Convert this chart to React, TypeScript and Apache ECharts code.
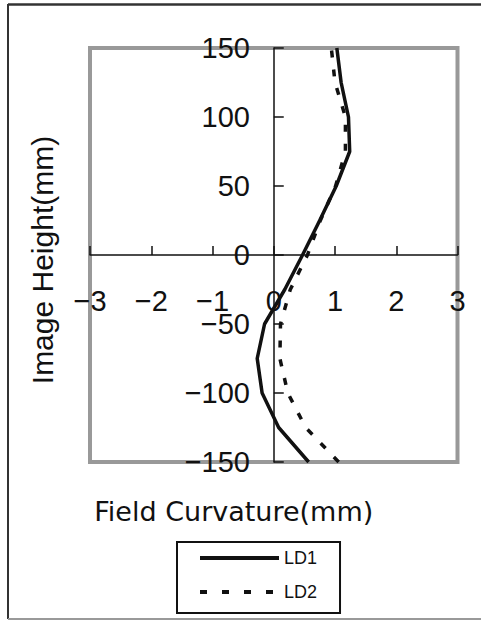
import React, { useEffect, useRef } from "react";
import * as echarts from "echarts";

const imageHeights = [-150, -125, -100, -75, -50, -25, 0, 25, 50, 75, 100, 125, 150];
const ld1Curvature = [0.57, 0.08, -0.19, -0.27, -0.15, 0.18, 0.47, 0.75, 1.02, 1.24, 1.22, 1.1, 1.03];
const ld2Curvature = [1.06, 0.52, 0.23, 0.1, 0.11, 0.27, 0.55, 0.76, 1.01, 1.17, 1.17, 1.0, 0.94];
const seriesNames = ["LD1", "LD2"];
const xTicks = { min: -3, max: 3, interval: 1 };
const yTicks = { min: -150, max: 150, interval: 50 };

const tickFont = "'Liberation Sans', Arial, sans-serif";
const minus = (v: number) => String(v).replace("-", "\u2212");

export default function App() {
  const ref = useRef<HTMLDivElement>(null);
  useEffect(() => {
    if (!ref.current) return;
    const chart = echarts.init(ref.current, null, { renderer: "svg" });
    const ld1 = imageHeights.map((h, i) => [ld1Curvature[i], h]);
    const ld2 = imageHeights.map((h, i) => [ld2Curvature[i], h]);
    chart.setOption({
      animation: false,
      backgroundColor: "#fff",
      grid: {
        left: 90,
        top: 48,
        right: 23.5,
        bottom: 158,
        containLabel: false,
        outerBoundsMode: "none",
        show: true,
        borderColor: "#999",
        borderWidth: 4,
        backgroundColor: "transparent",
      },
      xAxis: {
        type: "value",
        min: xTicks.min,
        max: xTicks.max,
        interval: xTicks.interval,
        name: "Field Curvature(mm)",
        nameLocation: "middle",
        nameGap: 36,
        nameTextStyle: {
          fontFamily: "'DejaVu Sans', sans-serif",
          fontSize: 27,
          color: "#111",
          padding: [0, 80, 0, 0],
        },
        axisLine: { onZero: true, lineStyle: { color: "#111", width: 1.5 } },
        axisTick: { inside: true, length: 9, lineStyle: { color: "#111", width: 1.5 } },
        axisLabel: {
          showMinLabel: true,
          showMaxLabel: true,
          hideOverlap: false,
          margin: -176,
          fontFamily: tickFont,
          fontSize: 29,
          color: "#111",
          formatter: (v: number) => minus(v),
        },
        splitLine: { show: false },
      },
      yAxis: {
        type: "value",
        min: yTicks.min,
        max: yTicks.max,
        interval: yTicks.interval,
        name: "Image Height(mm)",
        nameLocation: "middle",
        nameGap: 33,
        nameTextStyle: {
          fontFamily: "'Liberation Sans', Arial, sans-serif",
          fontSize: 30,
          color: "#111",
          padding: [0, 10, 0, 0],
        },
        axisLine: { onZero: true, lineStyle: { color: "#111", width: 1.5 } },
        axisTick: { inside: true, length: 10, lineStyle: { color: "#111", width: 1.5 } },
        axisLabel: {
          showMinLabel: true,
          showMaxLabel: true,
          hideOverlap: false,
          margin: -160,
          fontFamily: tickFont,
          fontSize: 29,
          color: "#111",
          padding: [6, 0, 0, 0],
          formatter: (v: number) => minus(v),
        },
        splitLine: { show: false },
      },
      legend: {
        orient: "vertical",
        left: 177,
        top: 542,
        padding: [7, 23, 12, 21],
        itemGap: 16,
        itemWidth: 79,
        itemHeight: 14,
        borderColor: "#111",
        borderWidth: 2,
        borderRadius: 0,
        data: [
          { name: seriesNames[0] },
          { name: seriesNames[1], lineStyle: { type: [7, 15], width: 4 } },
        ],
        itemStyle: { opacity: 0 },
        lineStyle: { width: 4 },
        textStyle: {
          fontFamily: "'Liberation Sans', Arial, sans-serif",
          fontSize: 18,
          color: "#111",
        },
      },
      graphic: [
        { type: "line", shape: { x1: 8, y1: 4.5, x2: 481, y2: 4.5 }, style: { stroke: "#333", lineWidth: 2.5 }, silent: true },
        { type: "line", shape: { x1: 8, y1: 4, x2: 8, y2: 619 }, style: { stroke: "#333", lineWidth: 2 }, silent: true },
        { type: "line", shape: { x1: 8, y1: 619, x2: 481, y2: 619 }, style: { stroke: "#999", lineWidth: 2 }, silent: true },
      ],
      series: [
        {
          name: seriesNames[0],
          type: "line",
          data: ld1,
          showSymbol: false,
          symbol: "none",
          lineStyle: { color: "#111", width: 3.5, type: "solid" },
          itemStyle: { color: "#111" },
          z: 3,
        },
        {
          name: seriesNames[1],
          type: "line",
          data: ld2,
          showSymbol: false,
          symbol: "none",
          lineStyle: { color: "#111", width: 3.5, type: [7, 12] },
          itemStyle: { color: "#111" },
          z: 3,
        },
      ],
    });
    return () => chart.dispose();
  }, []);
  return (
    <div
      ref={ref}
      style={{ position: "fixed", left: 0, top: 0, width: 481, height: 620, background: "#fff" }}
    />
  );
}
